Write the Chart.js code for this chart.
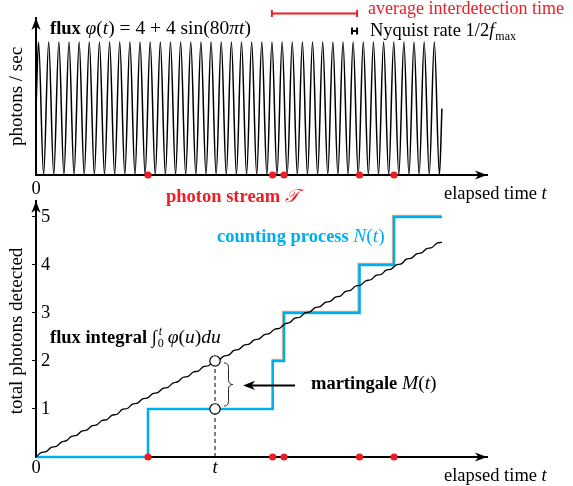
<!DOCTYPE html>
<html><head><meta charset="utf-8">
<script src="https://cdn.jsdelivr.net/npm/chart.js@4.4.1/dist/chart.umd.min.js"></script>
<style>
html,body{margin:0;padding:0;background:#fff;}
#wrap{position:relative;width:573px;height:486px;background:#fff;overflow:hidden;}
#wrap canvas{position:absolute;left:0;top:0;}
</style></head><body>
<div id="wrap"><canvas id="top" width="573" height="486"></canvas><canvas id="bot" width="573" height="486"></canvas></div>
<script>
// ---------------- data ----------------
const photonTimes = [0.276, 0.583, 0.611, 0.797, 0.882];      // photon stream T
const countLevels = [0, 1, 2, 3, 4, 5];                       // N(t) after each photon
const countEndTime = 1.0;
const fluxStartValue = 4, fluxEndValue = 4, fluxEndTime = 1.0;
const fluxFirstExtremumTime = 0.00625, fluxHalfPeriod = 0.0125;
const fluxExtrema = [8,0,8,0,8,0,8,0,8,0,8,0,8,0,8,0,8,0,8,0,
                     8,0,8,0,8,0,8,0,8,0,8,0,8,0,8,0,8,0,8,0,
                     8,0,8,0,8,0,8,0,8,0,8,0,8,0,8,0,8,0,8,0,
                     8,0,8,0,8,0,8,0,8,0,8,0,8,0,8,0,8,0,8,0];
const integralSampleStep = 0.0125;
const integralValues = [0,0.09,0.11,0.20,0.22,0.31,0.34,0.43,0.45,0.54,
  0.56,0.65,0.67,0.76,0.78,0.87,0.89,0.99,1.01,1.10,
  1.12,1.21,1.23,1.32,1.34,1.43,1.45,1.54,1.57,1.66,
  1.68,1.77,1.79,1.88,1.90,1.99,2.01,2.10,2.12,2.22,
  2.24,2.33,2.35,2.44,2.46,2.55,2.57,2.66,2.68,2.77,
  2.80,2.89,2.91,3.00,3.02,3.11,3.13,3.22,3.24,3.33,
  3.35,3.45,3.47,3.56,3.58,3.67,3.69,3.78,3.80,3.89,
  3.91,4.00,4.02,4.12,4.14,4.23,4.25,4.34,4.36,4.45,4.47];
const tMarker = 0.441;
const markerValues = [2, 1];                 // flux integral and N(t) at t
const orangeFromIndex = 2;                   // orange trace follows N(t) from 2nd jump on
const avgInterdetectionSpan = [0.581, 0.791];
const nyquistSpan = [0.7785, 0.791];
const xTicksTop = [0], xTickLabelsTop = ['0'];
const xTicksBottom = [0, tMarker], xTickLabelsBottom = ['0', 't'];
const yTicksBottom = [1, 2, 3, 4, 5];
const xMax = 1.111, fluxYMax = 9.45, countYMax = 5.33;

// ---------------- styles ----------------
const SERIF = '"Liberation Serif", "DejaVu Serif", serif';
const F = (style, size) => style + ' ' + size + 'px ' + SERIF;
const R = F('normal', 18.5), B = F('bold', 18.5), I = F('italic', 18.5);
const RM = F('normal', 19.5), IM = F('italic', 19.5);
const S = F('normal', 12), SI = F('italic', 12);
const RED = '#ee1c25', BLUE = '#00aeef', ORANGE = '#f5b27a';

function rich(ctx, x, y, parts) {
  ctx.save(); ctx.textBaseline = 'alphabetic'; ctx.textAlign = 'left';
  for (const p of parts) {
    ctx.font = p[1]; ctx.fillStyle = p[2] || '#000';
    ctx.fillText(p[0], x, y + (p[3] || 0));
    x += ctx.measureText(p[0]).width + (p[4] || 0);
  }
  ctx.restore(); return x;
}
function vtext(ctx, cx, cy, txt, font) {
  ctx.save(); ctx.translate(cx, cy); ctx.rotate(-Math.PI / 2);
  ctx.font = font; ctx.fillStyle = '#000'; ctx.textAlign = 'center'; ctx.textBaseline = 'middle';
  ctx.fillText(txt, 0, 0); ctx.restore();
}
function arrowHead(ctx, x, y, dir) {
  const L = 12, W = 4.6, N = 3.5;
  ctx.save(); ctx.translate(x, y); ctx.rotate(dir); ctx.fillStyle = '#000';
  ctx.beginPath(); ctx.moveTo(0, 0); ctx.lineTo(-L, -W); ctx.lineTo(-L + N, 0); ctx.lineTo(-L, W);
  ctx.closePath(); ctx.fill(); ctx.restore();
}
function bar(ctx, x1, x2, y, color, w) {
  ctx.save(); ctx.strokeStyle = color; ctx.lineWidth = w;
  ctx.beginPath(); ctx.moveTo(x1, y); ctx.lineTo(x2, y);
  ctx.moveTo(x1, y - 3.5); ctx.lineTo(x1, y + 3.5); ctx.moveTo(x2, y - 3.5); ctx.lineTo(x2, y + 3.5);
  ctx.stroke(); ctx.restore();
}

// ---------------- derived datasets ----------------
const fluxPoints = [{x: 0, y: fluxStartValue}]
  .concat(fluxExtrema.map((v, i) => ({x: fluxFirstExtremumTime + i * fluxHalfPeriod, y: v})))
  .concat([{x: fluxEndTime, y: fluxEndValue}]);
const integralPoints = integralValues.map((v, i) => ({x: i * integralSampleStep, y: v}));
const countPoints = [{x: 0, y: countLevels[0]}]
  .concat(photonTimes.map((t, i) => ({x: t, y: countLevels[i + 1]})))
  .concat([{x: countEndTime, y: countLevels[countLevels.length - 1]}]);
const orangePoints = countPoints.slice(orangeFromIndex);
const photonPoints = photonTimes.map(t => ({x: t, y: 0}));

const baseOpts = {
  responsive: false, animation: false, devicePixelRatio: 1, events: [],
  plugins: {legend: {display: false}, tooltip: {enabled: false}}
};

// ---------------- top panel ----------------
const topDecor = {
  id: 'topDecor',
  afterDraw(chart) {
    const ctx = chart.ctx, a = chart.chartArea, xs = chart.scales.x;
    arrowHead(ctx, a.right, a.bottom, 0);
    arrowHead(ctx, a.left, a.top, -Math.PI / 2);
    // legend
    bar(ctx, xs.getPixelForValue(avgInterdetectionSpan[0]), xs.getPixelForValue(avgInterdetectionSpan[1]), 13.5, RED, 2);
    rich(ctx, 368, 14, [['average interdetection time', F('normal', 18), RED]]);
    bar(ctx, xs.getPixelForValue(nyquistSpan[0]), xs.getPixelForValue(nyquistSpan[1]), 31, '#000', 2);
    rich(ctx, 370, 36, [['Nyquist rate 1/2', R], ['f', I, '#000', 0, 1], ['max', S, '#000', 4]]);
    // title
    rich(ctx, 50, 34, [['flux', B], [' ', R], ['φ', IM], ['(', RM], ['t', IM], [')', RM],
                       [' = 4 + 4 sin(80', RM], ['π', IM], ['t', IM], [')', RM]]);
    vtext(ctx, 17, (a.top + a.bottom) / 2, 'photons / sec', F('normal', 19));
    rich(ctx, 444, 199, [['elapsed time ', R], ['t', I]]);
    rich(ctx, 166, 202, [['photon stream ', B, RED], ['𝒯', I, RED]]);
  }
};
new Chart(document.getElementById('top'), {
  type: 'line',
  data: {datasets: [
    {type: 'scatter', data: photonPoints, pointRadius: 3.6, pointBackgroundColor: RED, pointBorderWidth: 0, showLine: false, clip: false, order: 0},
    {data: fluxPoints, borderColor: '#000', borderWidth: 1.5, pointRadius: 0, cubicInterpolationMode: 'monotone', fill: false, clip: false, order: 1}
  ]},
  options: Object.assign({}, baseOpts, {
    layout: {padding: {left: 0, top: 18, right: 86, bottom: 281}},
    scales: {
      x: {type: 'linear', min: 0, max: xMax,
          afterFit(s) { s.height = 30; },
          afterBuildTicks(s) { s.ticks = xTicksTop.map(v => ({value: v})); },
          grid: {display: false}, border: {color: '#000', width: 2},
          ticks: {color: '#000', font: {family: SERIF, size: 18.5}, padding: -5, maxRotation: 0, autoSkip: false,
                  callback: (v, i) => xTickLabelsTop[i]}},
      y: {type: 'linear', min: 0, max: fluxYMax,
          afterFit(s) { s.width = 36; },
          grid: {display: false}, border: {color: '#000', width: 2}, ticks: {display: false}}
    }
  }),
  plugins: [topDecor]
});

// ---------------- bottom panel ----------------
const botDecor = {
  id: 'botDecor',
  beforeDatasetDraw(chart, args) {
    if (args.meta._dataset.isOrange) { chart.ctx.save(); chart.ctx.translate(-1, -1); }
  },
  afterDatasetDraw(chart, args) {
    if (args.meta._dataset.isOrange) chart.ctx.restore();
  },
  afterDraw(chart) {
    const ctx = chart.ctx, a = chart.chartArea, xs = chart.scales.x, ys = chart.scales.y;
    arrowHead(ctx, a.right, a.bottom, 0);
    arrowHead(ctx, a.left, a.top, -Math.PI / 2);
    vtext(ctx, 17, (a.top + a.bottom) / 2 + 2, 'total photons detected', F('normal', 19));
    rich(ctx, 444, 481, [['elapsed time ', R], ['t', I]]);
    rich(ctx, 217, 242, [['counting process ', B, BLUE], ['N', IM, BLUE], ['(', RM, BLUE], ['t', IM, BLUE], [')', RM, BLUE]]);
    // flux integral label
    let x = rich(ctx, 50, 343, [['flux integral ', B], ['∫', R, '#000', 0, 0]]);
    rich(ctx, x + 1, 343, [['0', S, '#000', 4]]);
    rich(ctx, x + 2, 343, [['t', SI, '#000', -8]]);
    rich(ctx, x + 11, 343, [['φ', IM], ['(', RM], ['u', IM], [')', RM], ['du', IM]]);
    // martingale brace and arrow
    const px = xs.getPixelForValue(tMarker), y2 = ys.getPixelForValue(markerValues[0]), y1 = ys.getPixelForValue(markerValues[1]);
    const top = y2 + 2, bot = y1 - 3, mid = (top + bot) / 2, x0 = px + 9, w = 9;
    ctx.save(); ctx.strokeStyle = '#222'; ctx.lineWidth = 1;
    ctx.beginPath();
    ctx.moveTo(x0, top);
    ctx.bezierCurveTo(x0 + w * 0.5, top, x0 + w * 0.5, top + 3, x0 + w * 0.5, top + 7);
    ctx.lineTo(x0 + w * 0.5, mid - 5);
    ctx.bezierCurveTo(x0 + w * 0.5, mid - 1, x0 + w * 0.75, mid, x0 + w, mid);
    ctx.bezierCurveTo(x0 + w * 0.75, mid, x0 + w * 0.5, mid + 1, x0 + w * 0.5, mid + 5);
    ctx.lineTo(x0 + w * 0.5, bot - 7);
    ctx.bezierCurveTo(x0 + w * 0.5, bot - 3, x0 + w * 0.5, bot, x0, bot);
    ctx.stroke();
    ctx.lineWidth = 2; ctx.strokeStyle = '#000';
    ctx.beginPath(); ctx.moveTo(px + 80, mid + 1); ctx.lineTo(px + 34, mid + 1); ctx.stroke();
    ctx.restore();
    arrowHead(ctx, px + 28, mid + 1, Math.PI);
    rich(ctx, 311, 389, [['martingale ', B], ['M', IM], ['(', RM], ['t', IM], [')', RM]]);
  }
};
new Chart(document.getElementById('bot'), {
  type: 'line',
  data: {datasets: [
    {type: 'scatter', data: markerValues.map(v => ({x: tMarker, y: v})), pointRadius: 5.2, pointBackgroundColor: '#fff', pointBorderColor: '#000', pointBorderWidth: 1.2, showLine: false, clip: false, order: 0},
    {type: 'scatter', data: photonPoints, pointRadius: 3.6, pointBackgroundColor: RED, pointBorderWidth: 0, showLine: false, clip: false, order: 1},
    {data: [{x: tMarker, y: 0}, {x: tMarker, y: markerValues[0]}], borderColor: '#000', borderWidth: 1, borderDash: [4, 3], pointRadius: 0, order: 2},
    {data: integralPoints, borderColor: '#000', borderWidth: 1.3, pointRadius: 0, cubicInterpolationMode: 'monotone', clip: false, order: 3},
    {data: countPoints, borderColor: BLUE, borderWidth: 2.6, pointRadius: 0, stepped: 'before', clip: false, order: 4},
    {data: orangePoints, isOrange: true, borderColor: ORANGE, borderWidth: 2.4, pointRadius: 0, stepped: 'before', clip: false, order: 5}
  ]},
  options: Object.assign({}, baseOpts, {
    layout: {padding: {left: 0, top: 201, right: 86, bottom: 0}},
    scales: {
      x: {type: 'linear', min: 0, max: xMax,
          afterFit(s) { s.height = 29; },
          afterBuildTicks(s) { s.ticks = xTicksBottom.map(v => ({value: v})); },
          grid: {display: false}, border: {color: '#000', width: 2},
          ticks: {color: '#000', padding: -8, maxRotation: 0, autoSkip: false,
                  font: (c) => ({family: SERIF, size: 18.5, style: (c.index === 1 ? 'italic' : 'normal')}),
                  callback: (v, i) => xTickLabelsBottom[i]}},
      y: {type: 'linear', min: 0, max: countYMax,
          afterFit(s) { s.width = 36; },
          afterBuildTicks(s) { s.ticks = yTicksBottom.map(v => ({value: v})); },
          grid: {display: true, drawOnChartArea: false, drawTicks: true, tickLength: 4, color: '#000', lineWidth: 1},
          border: {color: '#000', width: 2},
          ticks: {mirror: true, padding: 5, color: '#000', font: {family: SERIF, size: 18.5}, callback: (v) => String(v)}}
    }
  }),
  plugins: [botDecor]
});
</script>
</body></html>
